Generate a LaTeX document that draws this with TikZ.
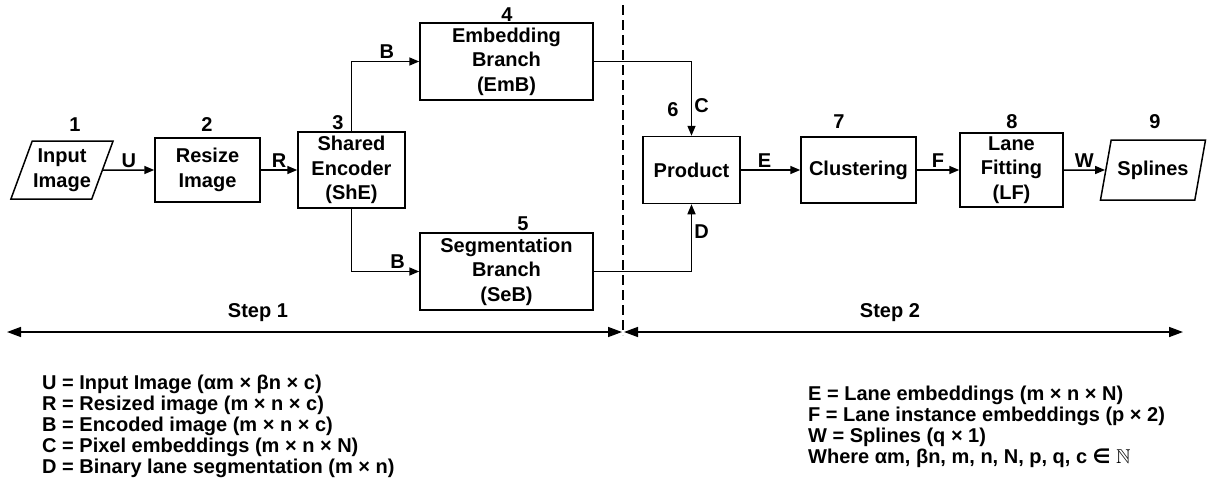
\documentclass[tikz,border=0pt]{standalone}
\usepackage{fontspec}
\usepackage{amssymb}
\setmainfont{Liberation Sans}
\newfontfamily\symfont{DejaVu Sans}
\usetikzlibrary{arrows.meta,shapes.geometric}

\begin{document}
\begin{tikzpicture}[x=1pt,y=-1pt,
    every node/.style={font=\fontsize{20}{24.5}\selectfont\bfseries},
    block/.style={draw,line width=1.5pt,align=center,inner sep=0pt},
    io/.style={draw,line width=1.5pt,align=center,inner sep=0pt,trapezium,
      trapezium stretches=true,trapezium left angle=64,trapezium right angle=116},
    flow/.style={line width=1.5pt,-{Triangle[length=10pt,width=8pt]}},
    lbl/.style={inner sep=2pt},
    steparrow/.style={line width=1.5pt,
      {Triangle[length=14pt,width=10pt]}-{Triangle[length=14pt,width=10pt]}},
    legend/.style={anchor=north west,align=left,inner sep=0pt,
      font=\fontsize{20}{21}\selectfont\bfseries}]
  \useasboundingbox (0,0) rectangle (1211,490);

  % blocks
  \node[io, minimum width=103pt, minimum height=58pt] (in) at (62,170) {Input\\Image};
  \node[block, minimum width=105pt, minimum height=64pt] (resize) at (207.5,170) {Resize\\Image};
  \node[block, minimum width=107pt, minimum height=76pt] (she) at (351.5,170) {Shared\\Encoder\\(ShE)};
  \node[block, minimum width=173pt, minimum height=77pt] (emb) at (506.5,61.5) {Embedding\\Branch\\(EmB)};
  \node[block, minimum width=173pt, minimum height=77pt] (seb) at (506.5,271.5) {Segmentation\\Branch\\(SeB)};
  \node[block, minimum width=97pt, minimum height=67pt] (prod) at (691.5,170) {Product};
  \node[block, minimum width=115pt, minimum height=66pt] (clus) at (858.5,170) {Clustering};
  \node[block, minimum width=103pt, minimum height=74pt] (lf) at (1011.5,170) {Lane\\Fitting\\(LF)};
  \node[io, minimum width=106pt, minimum height=60pt] (spl) at (1153,170) {Splines};

  % numbers
  \node (n1) at (75,125) {1};
  \node (n2) at (207,125) {2};
  \node (n3) at (338,123) {3};
  \node (n4) at (507,15) {4};
  \node (n5) at (523,224) {5};
  \node (n6) at (673,110) {6};
  \node (n7) at (839,122) {7};
  \node (n8) at (1012,122) {8};
  \node (n9) at (1155,122) {9};

  % data flow
  \draw[flow] (in.east) -- (resize.west) node[lbl,midway,above] {U};
  \draw[flow] (resize.east) -- (she.west) node[lbl,midway,above] {R};
  \draw[flow] (she.north) |- (emb.west) node[lbl,pos=0.76,above] {B};
  \draw[flow] (she.south) |- (seb.west) node[lbl,pos=0.84,above] {B};
  \draw[flow] (emb.east) -| (prod.north) node[lbl,pos=0.8,right] {C};
  \draw[flow] (seb.east) -| (prod.south) node[lbl,pos=0.8,right] {D};
  \draw[flow] (prod.east) -- (clus.west) node[lbl,pos=0.4,above] {E};
  \draw[flow] (clus.east) -- (lf.west) node[lbl,midway,above] {F};
  \draw[flow] (lf.east) -- (spl.west) node[lbl,midway,above] {W};

  % the two steps
  \coordinate (divtop) at (623,5);
  \coordinate (divbot) at (623,335);
  \draw[line width=1.5pt,dash pattern=on 10pt off 5pt] (divtop) -- (divbot);
  \coordinate (s1a) at (7,332);
  \coordinate (s1b) at (622,332);
  \coordinate (s2a) at (624,332);
  \coordinate (s2b) at (1183,332);
  \draw[steparrow] (s1a) -- (s1b);
  \draw[steparrow] (s2a) -- (s2b);
  \node (step1) at (258,313) {Step 1};
  \node (step2) at (890,313) {Step 2};

  % legend
  \node[legend] (legl) at (42,375) {U = Input Image (αm × βn × c)\\
    R = Resized image (m × n × c)\\
    B = Encoded image (m × n × c)\\
    C = Pixel embeddings (m × n × N)\\
    D = Binary lane segmentation (m × n)};
  \node[legend] (legr) at (808,386) {E = Lane embeddings (m × n × N)\\
    F = Lane instance embeddings (p × 2)\\
    W = Splines (q × 1)\\
    Where αm, βn, m, n, N, p, q, c {\symfont ∈} $\mathbb{N}$};
\end{tikzpicture}
\end{document}
